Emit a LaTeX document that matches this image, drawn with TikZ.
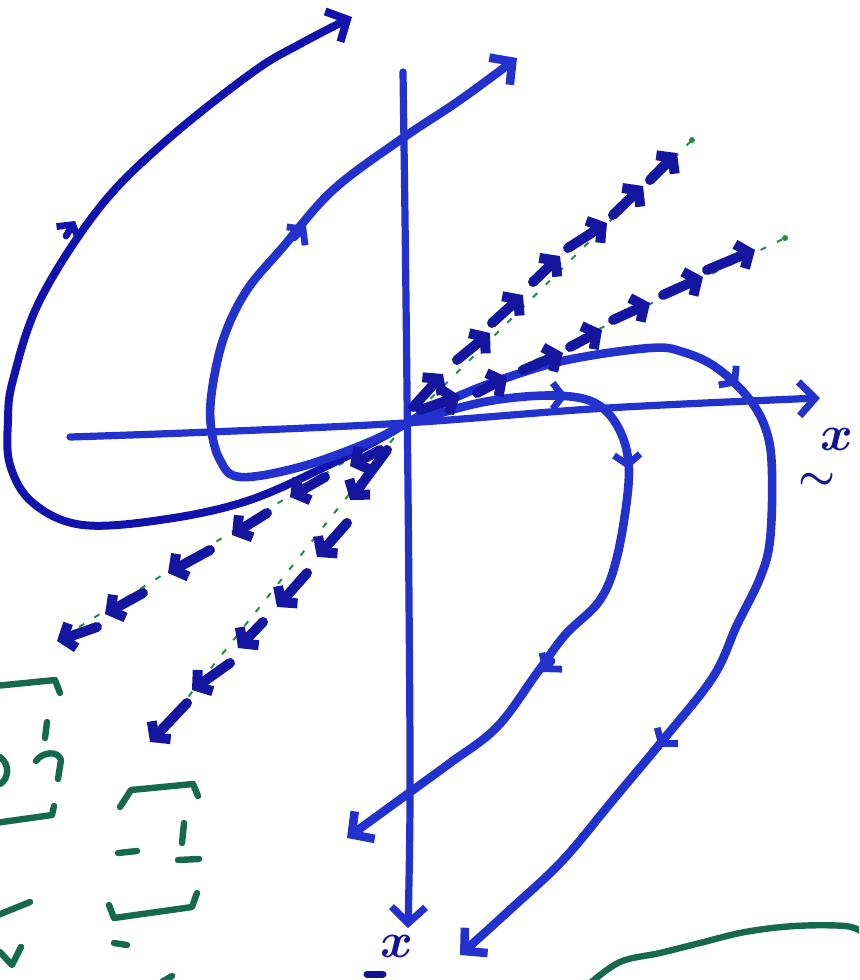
\documentclass[tikz,border=0pt]{standalone}
\usetikzlibrary{arrows.meta}
\definecolor{pen}{RGB}{35,50,205}
\definecolor{penD}{RGB}{18,18,172}
\definecolor{rayc}{RGB}{20,22,160}
\definecolor{grn}{RGB}{22,104,78}
\definecolor{grnL}{RGB}{40,140,70}
\definecolor{lblc}{RGB}{18,18,150}
\tikzset{
  traj/.style={pen, line width=4.3pt, line cap=round, line join=round},
  trajD/.style={penD, line width=4pt, line cap=round, line join=round},
  axisline/.style={pen, line width=3.6pt, line cap=round, line join=round},
  endtip/.style={-{Straight Barb[length=8pt,width=17pt]}},
  midtip/.style={pen, line width=3.4pt, line cap=round, -{Straight Barb[length=5pt,width=13pt]}},
  raybase/.style={grnL, line width=1pt, dash pattern=on 3pt off 6pt},
  rayarrow/.style={rayc, line width=5pt, line cap=round, -{Straight Barb[length=5pt,width=13pt]}},
  gpen/.style={grn, line width=3.2pt, line cap=round, line join=round},
  lbl/.style={text=lblc, inner sep=0pt, font=\fontsize{30}{30}\selectfont\boldmath},
  lbltil/.style={text=lblc, inner sep=0pt, font=\fontsize{21}{21}\selectfont\boldmath}
}
\begin{document}
\begin{tikzpicture}[x=0.5pt, y=-0.5pt]
\useasboundingbox (0,0) rectangle (859,980);
\clip (0,0) rectangle (859,980);

% origin and ray ends
\coordinate (O) at (405,424);
\coordinate (E1) at (692,140);
\coordinate (E2) at (785,238);
\coordinate (E3) at (55,642);
\coordinate (E4) at (150,745);

% green guide lines for the eigen-directions
\draw[raybase] (O) -- (E1);
\draw[raybase] (O) -- (E2);
\draw[raybase] (O) -- (E3);
\draw[raybase] (O) -- (E4);
\fill[grnL] (E1) circle (3);
\fill[grnL] (E2) circle (3);

% axes
\draw[axisline, endtip] plot[smooth, tension=0.6] coordinates {(403,72) (406,300) (409,600) (410,800) (408,928)};
\draw[axisline, endtip] plot[smooth, tension=0.6] coordinates {(70,437) (210,432) (405,423) (607,408) (820,398)};

% trajectory A (outer left)
\draw[trajD, endtip] plot[smooth, tension=0.6] coordinates {(403,425) (383,437) (333,463) (250,500) (167,519) (83,525) (33,503) (10,465) (8,420) (13,380) (40,300) (100,207) (167,140) (253,72) (300,44) (352,17)};
% trajectory B (inner left)
\draw[traj, endtip] plot[smooth, tension=0.6] coordinates {(403,425) (367,443) (300,467) (240,477) (220,460) (211,427) (212,390) (224,337) (247,290) (283,247) (333,190) (400,140) (460,100) (517,58)};
% trajectory C (inner right)
\draw[traj, endtip] plot[smooth, tension=0.6] coordinates {(405,424) (470,405) (520,397) (565,396) (595,403) (615,422) (627,452) (628,490) (617,557) (600,600) (565,635) (537,673) (497,727) (450,763) (413,790) (347,838)};
% trajectory D (outer right)
\draw[traj, endtip] plot[smooth, tension=0.6] coordinates {(405,424) (450,400) (500,380) (567,360) (650,348) (683,352) (717,368) (750,400) (767,433) (772,473) (770,540) (760,578) (737,625) (713,677) (663,740) (613,800) (563,860) (513,907) (460,955)};

% direction marks on the trajectories
\draw[midtip, penD] (66,236) -- (75,221);
\draw[midtip] (294,238) -- (306,226);
\draw[midtip] (553,396) -- (567,396);
\draw[midtip] (627,454) -- (628,469);
\draw[midtip] (552,661) -- (543,672);
\draw[midtip] (727,375) -- (738,385);
\draw[midtip] (668,735) -- (659,747);

% arrows along ray 1
\draw[rayarrow] (413,407) -- (443,374);
\draw[rayarrow] (457,360) -- (490,333);
\draw[rayarrow] (492,323) -- (523,295);
\draw[rayarrow] (533,282) -- (560,256);
\draw[rayarrow] (568,248) -- (607,223);
\draw[rayarrow] (613,215) -- (643,186);
\draw[rayarrow] (650,180) -- (677,153);
% arrows along ray 2
\draw[rayarrow] (420,410) -- (460,396);
\draw[rayarrow] (477,393) -- (507,377);
\draw[rayarrow] (523,370) -- (563,353);
\draw[rayarrow] (570,347) -- (602,330);
\draw[rayarrow] (613,320) -- (650,303);
\draw[rayarrow] (663,295) -- (703,277);
\draw[rayarrow] (707,270) -- (755,250);
% arrows along ray 3
\draw[rayarrow] (380,450) -- (350,466);
\draw[rayarrow] (325,477) -- (290,497);
\draw[rayarrow] (267,513) -- (232,535);
\draw[rayarrow] (210,550) -- (168,573);
\draw[rayarrow] (143,593) -- (105,614);
\draw[rayarrow] (97,627) -- (57,641);
% arrows along ray 4
\draw[rayarrow] (387,450) -- (350,500);
\draw[rayarrow] (347,523) -- (317,557);
\draw[rayarrow] (307,573) -- (277,607);
\draw[rayarrow] (263,622) -- (238,648);
\draw[rayarrow] (230,663) -- (192,690);
\draw[rayarrow] (187,703) -- (150,742);

% axis labels
\node[lbl] (xr) at (837,439) {$x$};
\node[lbltil] (xrt) at (817,481) {$\sim$};
\node[lbl] (xb) at (397,946) {$x$};
\coordinate (xbt) at (375,974);
\draw[lblc, line width=3.5pt, line cap=round] ([xshift=-4]xbt) -- ([xshift=4]xbt);

% green fragments at the left edge
\draw[gpen] (-5,686) -- (55,680) -- (60,693);
\draw[gpen] (47,722) -- (45,738);
\draw[gpen] (36,761) .. controls (42,752) and (58,750) .. (61,760) -- (58,779);
\draw[gpen] (0,757) .. controls (10,764) and (9,779) .. (0,784);
\draw[gpen] (-5,823) -- (52,815) -- (54,806);
\draw[gpen] (-2,915) -- (30,902);
\draw[gpen] (0,952) -- (12,965) -- (21,947);
% second green fragment
\draw[gpen] (120,807) -- (131,790) -- (193,784) -- (198,796);
\draw[gpen] (184,823) -- (182,843);
\draw[gpen] (118,853) -- (137,851);
\draw[gpen] (178,860) -- (199,859);
\draw[gpen] (109,905) -- (114,918) -- (192,907) -- (197,893);
\draw[gpen] (114,943) -- (127,945);
\draw[gpen] (162,982) -- (172,976);
% green curve at the bottom right
\draw[gpen] plot[smooth, tension=0.6] coordinates {(588,985) (620,962) (660,953) (700,943) (745,932) (795,926) (845,926) (862,932)};
\end{tikzpicture}
\end{document}
